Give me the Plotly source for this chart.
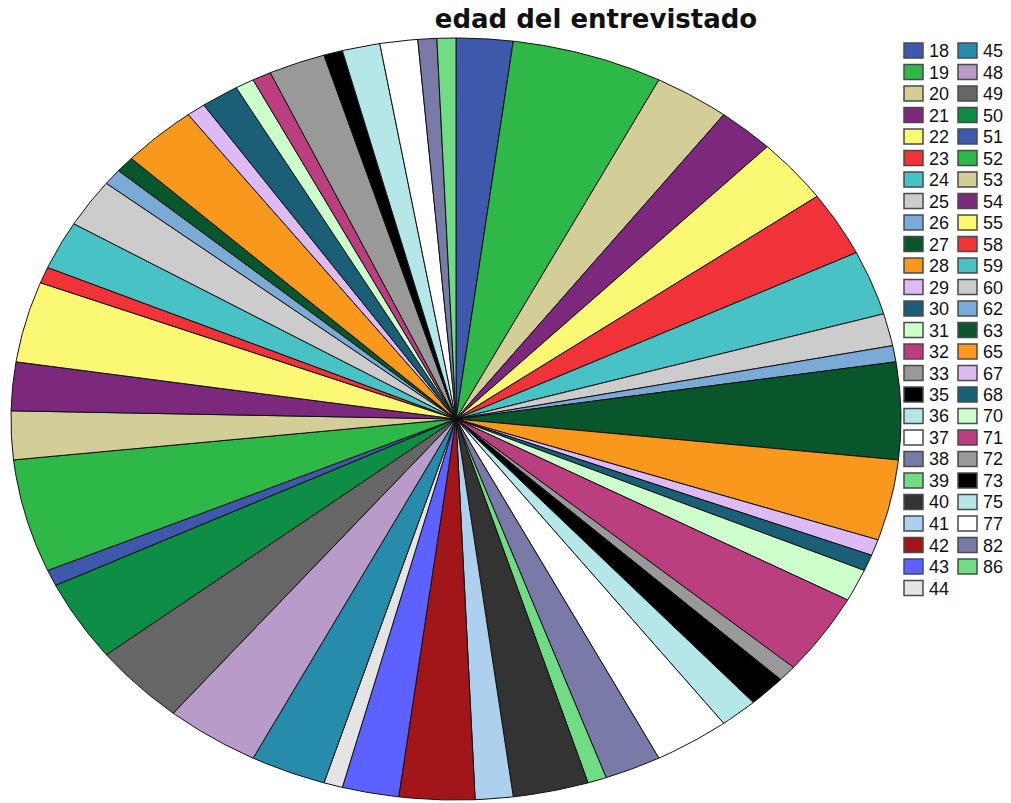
import numpy as np
import plotly.graph_objects as go

# ---------------- data ----------------
ages = [18, 19, 20, 21, 22, 23, 24, 25, 26, 27, 28, 29, 30, 31, 32, 33, 35, 36, 37,
        38, 39, 40, 41, 42, 43, 44, 45, 48, 49, 50, 51, 52, 53, 54, 55, 58, 59, 60,
        62, 63, 65, 67, 68, 70, 71, 72, 73, 75, 77, 82, 86]
counts = [3, 8, 4, 3, 4, 4, 4, 2, 1, 6, 5, 1, 1, 2, 5, 1, 2, 2, 4,
          3, 1, 4, 2, 4, 3, 1, 4, 5, 5, 5, 1, 7, 3, 3, 5, 1, 3, 3,
          1, 1, 4, 1, 2, 1, 1, 3, 1, 2, 2, 1, 1]
title_text = "edad del entrevistado"

# ---------------- styles ----------------
palette = ["#3E58AC", "#2EB848", "#D3CE97", "#7C287D", "#FBF873", "#EF3338",
           "#48C2C5", "#CCCCCC", "#7AAAD5", "#0A562C", "#F8981D", "#DDBAF1",
           "#1A5F76", "#CCFFCC", "#BB3F7F", "#999999", "#000000", "#B6E7E8",
           "#FFFFFF", "#797AA7", "#70DC84", "#333333", "#ACD0EE", "#A21619",
           "#5D61FF", "#E4E4E4", "#278BAC", "#B89BC9", "#666666", "#0D8D46"]
colors = [palette[i % len(palette)] for i in range(len(ages))]

W, H = 1011, 803
# pie (ellipse) plot area in pixels
PX0, PX1, PY0, PY1 = 9, 903, 36, 802
CX, CY, RX, RY = 456, 419, 445, 381


def px(x):
    return x / W


def py(y):
    return 1 - y / H


fig = go.Figure()
total = float(sum(counts))
cum = np.concatenate([[0], np.cumsum(counts)])
for i, (age, c) in enumerate(zip(ages, counts)):
    a0 = 2 * np.pi * cum[i] / total
    a1 = 2 * np.pi * cum[i + 1] / total
    n = max(int(np.ceil((a1 - a0) / np.radians(0.4))), 2)
    t = np.linspace(a0, a1, n + 1)
    xs = np.concatenate([[0.0], np.sin(t), [0.0]])
    ys = np.concatenate([[0.0], np.cos(t), [0.0]])
    fig.add_trace(go.Scatter(
        x=xs, y=ys, mode="lines", fill="toself", fillcolor=colors[i],
        line=dict(color="#111111", width=1), name=str(age), showlegend=False,
        hoveron="fills", hoverinfo="text",
        text=f"{age}: {c} ({100 * c / total:.1f}%)"))

# axes so that the unit circle becomes the SPSS-style ellipse
xr = ((PX0 - CX) / RX, (PX1 - CX) / RX)
yr = ((CY - PY1) / RY, (CY - PY0) / RY)
fig.update_xaxes(visible=False, range=list(xr), domain=[px(PX0), px(PX1)], fixedrange=True)
fig.update_yaxes(visible=False, range=list(yr), domain=[py(PY1), py(PY0)], fixedrange=True)

# ---------------- legend (two columns) ----------------
shapes = []
annotations = []
rows_first = 26
for i, age in enumerate(ages):
    col = 0 if i < rows_first else 1
    row = i if i < rows_first else i - rows_first
    x0 = 904 + col * 54
    y0 = 43 + row * 21.5
    shapes.append(dict(type="rect", xref="paper", yref="paper",
                       x0=px(x0), x1=px(x0 + 19), y0=py(y0), y1=py(y0 + 15),
                       fillcolor=colors[i], line=dict(color="#4a4a4a", width=1.5)))
    annotations.append(dict(xref="paper", yref="paper", x=px(x0 + 24), y=py(y0 + 8),
                            xanchor="left", yanchor="middle", showarrow=False,
                            text=str(age), borderpad=0,
                            font=dict(family="Liberation Sans, Arial", size=18, color="#111111")))

fig.update_layout(
    width=W, height=H,
    margin=dict(l=0, r=0, t=0, b=0, pad=0),
    paper_bgcolor="white", plot_bgcolor="white",
    shapes=shapes, annotations=annotations,
    showlegend=False,
    title=dict(text=title_text, x=596 / W, y=1 - 19 / H, xanchor="center", yanchor="middle",
               xref="paper", yref="paper",
               font=dict(family="DejaVu Sans", size=26, color="#111111", weight="bold")),
)

fig.write_html("out.html", config={"displayModeBar": False},
               post_script="document.body.style.margin='0';")
